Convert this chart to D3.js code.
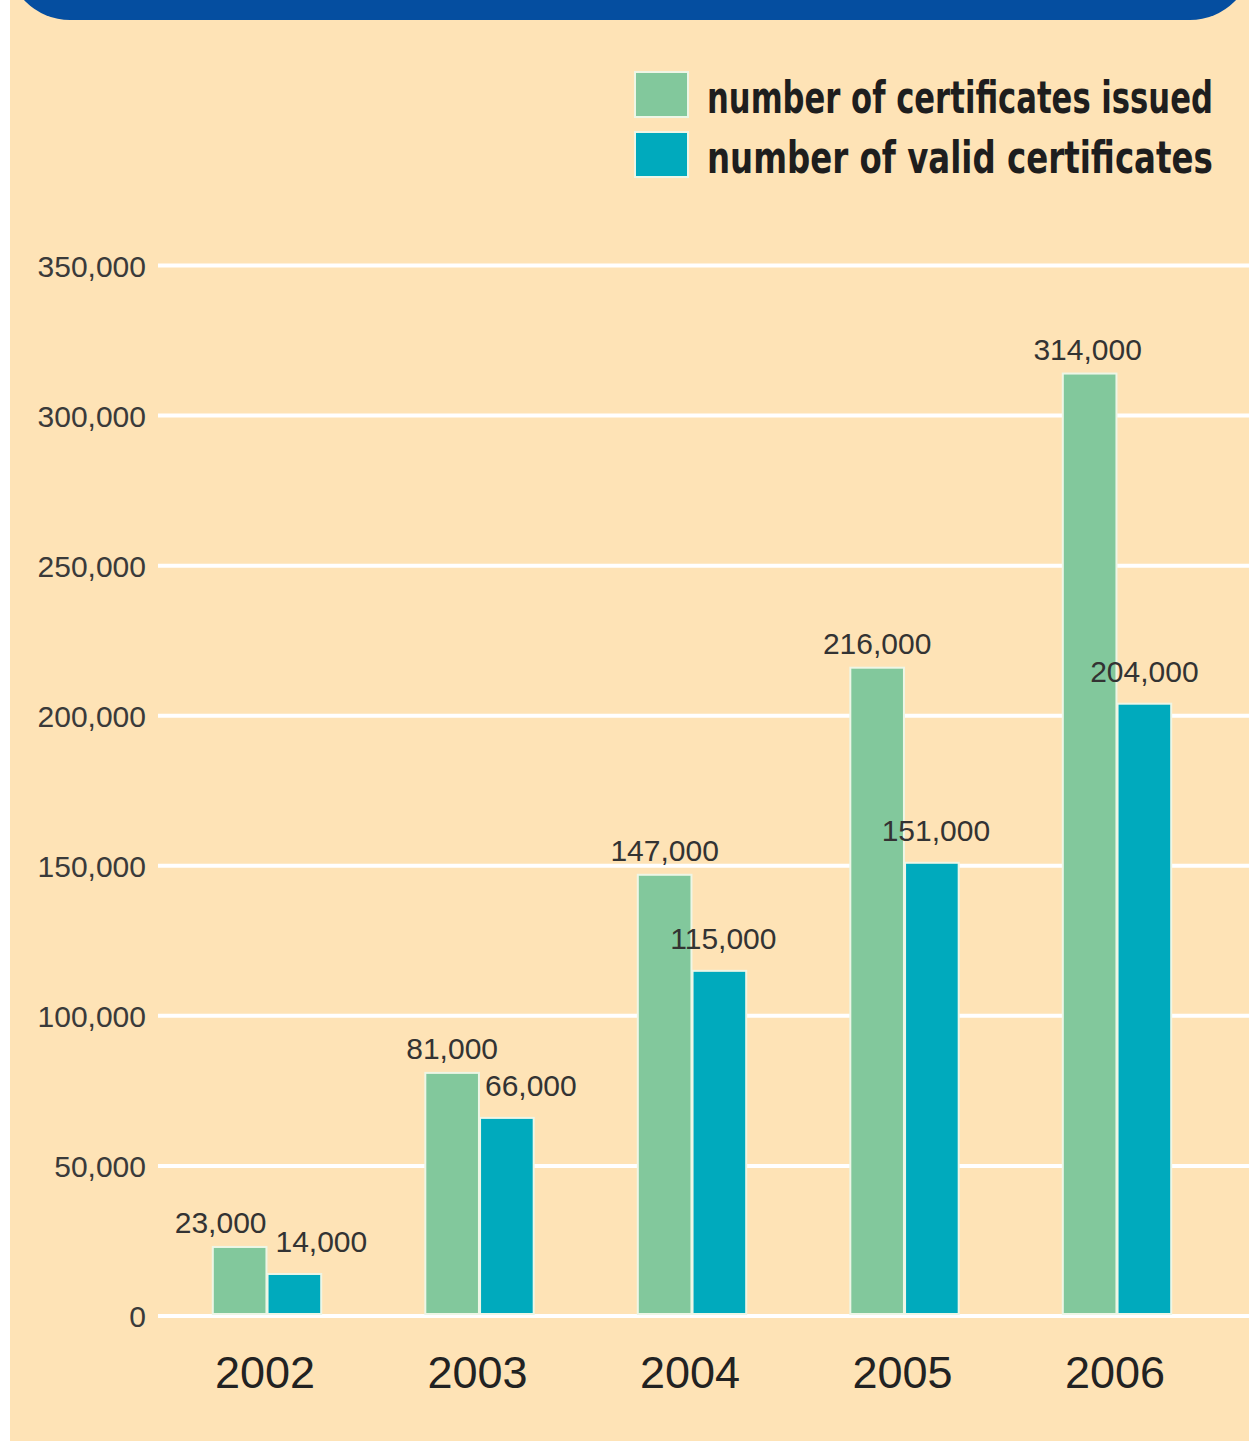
<!DOCTYPE html>
<html>
<head>
<meta charset="utf-8">
<script src="https://cdn.jsdelivr.net/npm/d3@7"></script>
<style>
  body { margin: 0; background: #ffffff; }
  svg { display: block; }
</style>
</head>
<body>
<div id="chart"></div>
<script>
// Chart data
var years = ["2002", "2003", "2004", "2005", "2006"];
var issued = [23000, 81000, 147000, 216000, 314000];
var valid = [14000, 66000, 115000, 151000, 204000];
var seriesNames = ["number of certificates issued", "number of valid certificates"];
var yTicks = [0, 50000, 100000, 150000, 200000, 250000, 300000, 350000];

// small horizontal nudges for the value labels so they don't collide
var issuedLabelNudge = [-19, 0, 0, 0, -2];
var validLabelNudge = [27, 24, 4, 4, 0];

var width = 1249;
var height = 1441;
var colors = ["#82c89c", "#00aabd"];

var svg = d3.select("#chart")
    .append("svg")
    .attr("width", width)
    .attr("height", height);

// Background: white strip on the left, cream panel
svg.append("rect")
    .attr("x", 10)
    .attr("y", 0)
    .attr("width", width - 10)
    .attr("height", height)
    .attr("fill", "#fee3b6");

// Blue banner (cut off at the top)
svg.append("rect")
    .attr("x", 7)
    .attr("y", -120)
    .attr("width", 1246)
    .attr("height", 140)
    .attr("rx", 63)
    .attr("ry", 63)
    .attr("fill", "#054ea0");

// Scales
var x = d3.scaleBand()
    .domain(years)
    .range([160.75, 1223.25])
    .paddingInner(0.49)
    .paddingOuter(0.245);

var xSub = d3.scaleBand()
    .domain([0, 1])
    .range([0, x.bandwidth()])
    .paddingInner(0.02);

var y = d3.scaleLinear()
    .domain([0, 350000])
    .range([1316, 265.5]);

var fmt = d3.format(",");

// Gridlines
svg.append("g")
    .selectAll("line")
    .data(yTicks)
    .enter()
    .append("line")
    .attr("x1", 158)
    .attr("x2", width)
    .attr("y1", function(d) { return y(d); })
    .attr("y2", function(d) { return y(d); })
    .attr("stroke", "#ffffff")
    .attr("stroke-width", 4);

// Y axis labels
svg.append("g")
    .selectAll("text")
    .data(yTicks)
    .enter()
    .append("text")
    .attr("x", 146)
    .attr("y", function(d) { return y(d) + 11; })
    .attr("text-anchor", "end")
    .style("font-family", "'Liberation Sans', Arial, sans-serif")
    .style("font-size", "30px")
    .style("fill", "#3a3a3a")
    .text(function(d) { return fmt(d); });

// Build rows for the bars
var rows = years.map(function(yr, i) {
    return { year: yr, values: [issued[i], valid[i]], nudge: [issuedLabelNudge[i], validLabelNudge[i]] };
});

var groups = svg.append("g")
    .selectAll("g")
    .data(rows)
    .enter()
    .append("g")
    .attr("transform", function(d) { return "translate(" + x(d.year) + ",0)"; });

groups.selectAll("rect")
    .data(function(d) { return d.values.map(function(v, k) { return { k: k, v: v }; }); })
    .enter()
    .append("rect")
    .attr("x", function(d) { return xSub(d.k); })
    .attr("y", function(d) { return y(d.v); })
    .attr("width", xSub.bandwidth())
    .attr("height", function(d) { return y(0) - 2 - y(d.v); })
    .attr("fill", function(d) { return colors[d.k]; })
    .attr("stroke", "#eef6e6")
    .attr("stroke-width", 2);

// Value labels
groups.selectAll("text")
    .data(function(d) { return d.values.map(function(v, k) { return { k: k, v: v, n: d.nudge[k] }; }); })
    .enter()
    .append("text")
    .attr("x", function(d) { return xSub(d.k) + xSub.bandwidth() / 2 + d.n; })
    .attr("y", function(d) { return y(d.v) - (d.k === 0 ? 14 : 22); })
    .attr("text-anchor", "middle")
    .style("font-family", "'Liberation Sans', Arial, sans-serif")
    .style("font-size", "30px")
    .style("fill", "#333333")
    .text(function(d) { return fmt(d.v); });

// Year labels
svg.append("g")
    .selectAll("text")
    .data(years)
    .enter()
    .append("text")
    .attr("x", function(d) { return x(d) + x.bandwidth() / 2 - 2; })
    .attr("y", 1388)
    .attr("text-anchor", "middle")
    .style("font-family", "'Liberation Sans', Arial, sans-serif")
    .style("font-size", "45px")
    .style("fill", "#222222")
    .text(function(d) { return d; });

// Legend
var legend = svg.append("g")
    .selectAll("g")
    .data(seriesNames)
    .enter()
    .append("g")
    .attr("transform", function(d, i) { return "translate(635," + (72 + i * 60) + ")"; });

legend.append("rect")
    .attr("width", 53)
    .attr("height", 45)
    .attr("fill", function(d, i) { return colors[i]; })
    .attr("stroke", "#eef6e6")
    .attr("stroke-width", 2);

// condensed look: squeeze each label horizontally so both end at the same edge (~506px wide)
legend.append("g")
    .append("text")
    .attr("x", 0)
    .attr("y", 41)
    .style("font-family", "'DejaVu Sans Condensed', 'Liberation Sans', sans-serif")
    .style("font-stretch", "condensed")
    .style("font-weight", "bold")
    .style("font-size", "44px")
    .style("fill", "#1e1e1e")
    .text(function(d) { return d; })
    .each(function() {
        var squeeze = 506 / this.getComputedTextLength();
        d3.select(this.parentNode).attr("transform", "translate(72,0) scale(" + squeeze + ",1)");
    });
</script>
</body>
</html>
